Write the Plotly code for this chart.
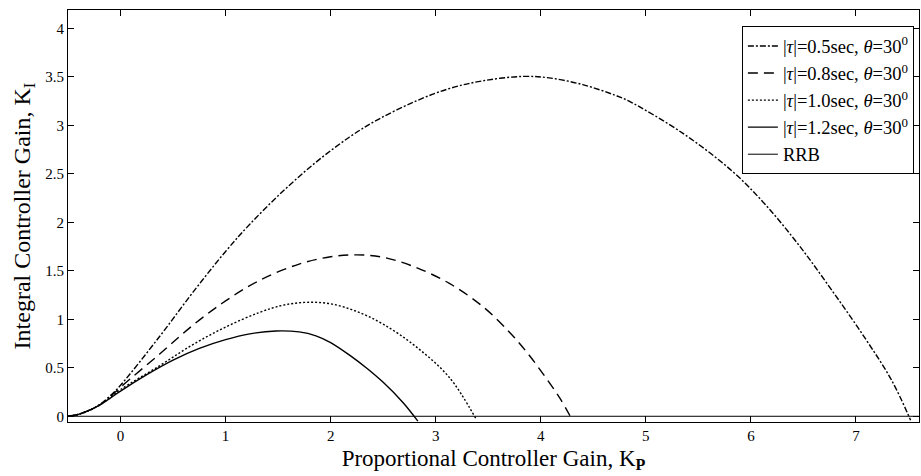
import plotly.graph_objects as go

# Data
kp_05 = [-0.5, -0.4, -0.3, -0.2, -0.1, 0.0, 0.37, 0.69, 1.0, 1.23, 1.545, 1.86, 2.18, 2.45,
         2.81, 3.13, 3.45, 3.83, 4.08, 4.40, 4.71, 4.84, 5.35, 5.82, 6.14, 6.46, 6.77, 7.09, 7.34, 7.52]
ki_05 = [0.0, 0.02, 0.06, 0.12, 0.21, 0.32, 0.82, 1.28, 1.70, 1.98, 2.32, 2.62, 2.88, 3.06,
         3.25, 3.38, 3.46, 3.505, 3.49, 3.42, 3.31, 3.25, 2.92, 2.53, 2.18, 1.76, 1.30, 0.80, 0.37, -0.04]

kp_08 = [-0.5, -0.4, -0.3, -0.2, -0.1, 0.0, 0.37, 0.69, 1.0, 1.32, 1.70, 2.0, 2.25, 2.5,
         2.8, 3.13, 3.45, 3.70, 3.86, 4.02, 4.18, 4.30]
ki_08 = [0.0, 0.02, 0.06, 0.115, 0.20, 0.30, 0.64, 0.94, 1.19, 1.40, 1.57, 1.645, 1.665, 1.64,
         1.54, 1.37, 1.13, 0.87, 0.67, 0.44, 0.19, -0.04]

kp_10 = [-0.5, -0.4, -0.3, -0.2, -0.1, 0.0, 0.37, 0.69, 1.0, 1.32, 1.545, 1.77, 2.0, 2.25,
         2.50, 2.81, 3.13, 3.38]
ki_10 = [0.0, 0.02, 0.06, 0.115, 0.19, 0.275, 0.52, 0.74, 0.92, 1.07, 1.145, 1.175, 1.16, 1.08,
         0.95, 0.72, 0.40, -0.02]

kp_12 = [-0.5, -0.4, -0.3, -0.2, -0.1, 0.0, 0.25, 0.5, 0.75, 1.0, 1.23, 1.48, 1.7, 1.86,
         2.0, 2.18, 2.35, 2.5, 2.69, 2.83]
ki_12 = [0.0, 0.02, 0.06, 0.115, 0.185, 0.26, 0.43, 0.58, 0.70, 0.79, 0.85, 0.88, 0.87, 0.83,
         0.76, 0.63, 0.49, 0.35, 0.14, -0.05]

kp_rrb = [-0.5, 7.6]
ki_rrb = [0.0, 0.0]

labels = [
    "|<i>τ</i>|=0.5sec, <i>θ</i>=30<sup>0</sup>",
    "|<i>τ</i>|=0.8sec, <i>θ</i>=30<sup>0</sup>",
    "|<i>τ</i>|=1.0sec, <i>θ</i>=30<sup>0</sup>",
    "|<i>τ</i>|=1.2sec, <i>θ</i>=30<sup>0</sup>",
    "RRB",
]
x_ticks = [0, 1, 2, 3, 4, 5, 6, 7]
y_ticks = [0, 0.5, 1, 1.5, 2, 2.5, 3, 3.5, 4]
y_ticktext = ["0", "0.5", "1", "1.5", "2", "2.5", "3", "3.5", "4"]

FONT = "Liberation Serif"

fig = go.Figure()
series = [
    (kp_05, ki_05, "6px,2px,2px,2px", 1.4),
    (kp_08, ki_08, "10px,6px", 1.4),
    (kp_10, ki_10, "2px,2px", 1.4),
    (kp_12, ki_12, "solid", 1.4),
    (kp_rrb, ki_rrb, "solid", 1.0),
]
for (xs, ys, dash, w), name in zip(series, labels):
    fig.add_trace(go.Scatter(
        x=xs, y=ys, mode="lines", name=name,
        line=dict(color="black", width=w, dash=dash, shape="spline", smoothing=1.0),
    ))

fig.update_layout(
    width=921, height=476,
    margin=dict(l=68, r=2, t=10, b=54),
    paper_bgcolor="white", plot_bgcolor="white",
    font=dict(family=FONT, color="black", size=15),
    legend=dict(
        x=0.994, y=0.96, xanchor="right", yanchor="top",
        bgcolor="white", bordercolor="black", borderwidth=1,
        font=dict(family=FONT, size=18.5, color="black"),
        tracegroupgap=0, itemwidth=30,
    ),
    showlegend=True,
)
fig.update_xaxes(
    range=[-0.5, 7.6], tickvals=x_ticks, ticks="inside", ticklen=6, tickcolor="black",
    showline=True, linecolor="black", linewidth=1, mirror="ticks", showgrid=False,
    zeroline=False, tickfont=dict(family=FONT, size=15),
    title=dict(text="Proportional Controller Gain, K<sub><b>P</b></sub>",
               font=dict(family=FONT, size=23), standoff=6),
)
fig.update_yaxes(
    range=[-0.059, 4.19], tickvals=y_ticks, ticktext=y_ticktext, ticks="inside", ticklen=6,
    tickcolor="black", showline=True, linecolor="black", linewidth=1, mirror="ticks",
    showgrid=False, zeroline=False, tickfont=dict(family=FONT, size=15),
    title=dict(text="Integral Controller Gain, K<sub>I</sub>",
               font=dict(family=FONT, size=24), standoff=7),
)

fig.write_html("out.html")
